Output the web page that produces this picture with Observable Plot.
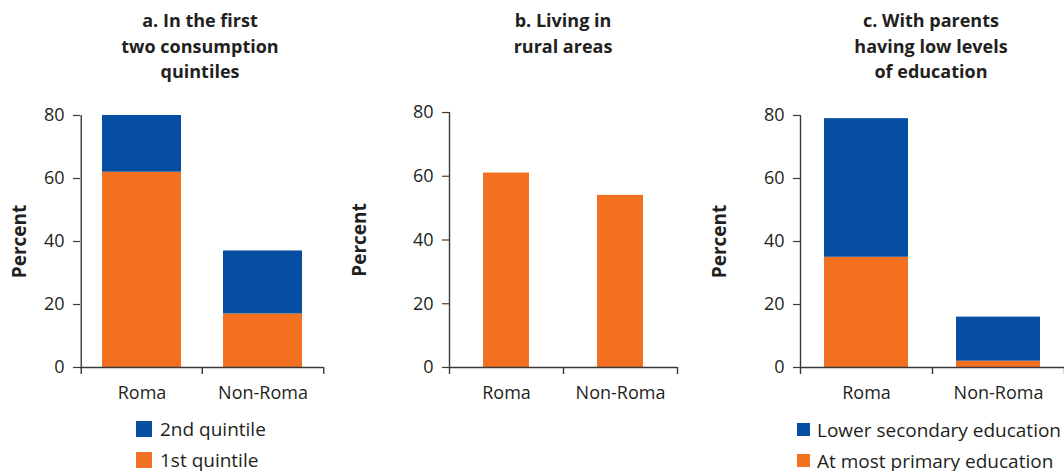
<!DOCTYPE html>
<html>
<head>
<meta charset="utf-8">
<script src="https://cdn.jsdelivr.net/npm/d3@7"></script>
<script src="https://cdn.jsdelivr.net/npm/@observablehq/plot@0.6"></script>
<style>
  html, body { margin: 0; padding: 0; background: #fff; }
  #root { position: relative; width: 1064px; height: 471px; overflow: hidden; font-family: "Open Sans", "Noto Sans", sans-serif; color: #231f20; }
  .panel { position: absolute; top: 0; }
  .title { position: absolute; width: 320px; text-align: center; font-weight: bold; font-size: 18px; line-height: 25.5px; }
  .legrow { position: absolute; display: flex; align-items: center; font-size: 19px; white-space: nowrap; }
  .sw { display: inline-block; flex: none; }
</style>
</head>
<body>
<div id="root"></div>
<script>
// ---- data ----
const categories = ["Roma", "Non-Roma"];
const seriesA = ["1st quintile", "2nd quintile"];
const aFirstQuintile = [62, 17];
const aSecondQuintile = [18, 20];
const bRural = [61, 54];
const seriesC = ["At most primary education", "Lower secondary education"];
const cPrimary = [35, 2];
const cLowerSecondary = [44, 14];
const yTicks = [0, 20, 40, 60, 80];
const titles = [
  ["a. In the first", "two consumption", "quintiles"],
  ["b. Living in", "rural areas"],
  ["c. With parents", "having low levels", "of education"]
];

const ORANGE = "#f37021";
const BLUE = "#054ea2";
const INK = "#231f20";
const AXIS = "#3a3a3a";
const FONT = '"Open Sans", "Noto Sans", sans-serif';

const root = document.getElementById("root");

function panel({left, width, marginLeft, marginRight, marginTop, data, series, colors, padding}) {
  const height = 420;
  const marginBottom = height - 367;
  const step = (width - marginLeft - marginRight) / categories.length;
  const plot = Plot.plot({
    width, height, marginLeft, marginRight, marginTop, marginBottom,
    style: {fontFamily: FONT, fontSize: "18px", color: INK, background: "transparent", overflow: "visible"},
    x: {domain: categories, paddingInner: padding, paddingOuter: padding / 2, axis: null},
    y: {domain: [0, 80], axis: null},
    color: {domain: series, range: colors},
    marks: [
      Plot.barY(data, {x: "cat", y: "value", fill: "series", order: series}),
      Plot.axisY({ticks: yTicks, tickSize: 7, tickPadding: 9, label: null, stroke: AXIS, fill: INK, strokeWidth: 1.2, fontSize: 18, fontFamily: FONT}),
      Plot.axisX({tickSize: 0, tickPadding: 19, label: null, fill: INK, fontSize: 18, fontFamily: FONT}),
      Plot.ruleY([0], {stroke: AXIS, strokeWidth: 1.4}),
      Plot.ruleX([categories[0]], {x: d => d, dx: -step / 2, insetBottom: -7, stroke: AXIS, strokeWidth: 1.4}),
      Plot.ruleX(categories.slice(1), {x: d => d, dx: -step / 2, y1: 0, y2: 0, insetBottom: -7, stroke: AXIS, strokeWidth: 1.4}),
      Plot.ruleX(categories.slice(-1), {x: d => d, dx: step / 2, y1: 0, y2: 0, insetBottom: -7, stroke: AXIS, strokeWidth: 1.4}),
      Plot.text(["Percent"], {frameAnchor: "left", rotate: -90, dx: -(marginLeft - 19), fontWeight: "bold", fontSize: 19, fontFamily: FONT, fill: INK, textAnchor: "middle"})
    ]
  });
  const wrap = document.createElement("div");
  wrap.className = "panel";
  wrap.style.left = left + "px";
  wrap.appendChild(plot);
  root.appendChild(wrap);
}

function addTitle(lines, center) {
  const d = document.createElement("div");
  d.className = "title";
  d.style.left = (center - 160) + "px";
  d.style.top = "8px";
  d.innerHTML = lines.join("<br>");
  root.appendChild(d);
}

function addLegend(items, x, y0, rowGap, size, textX) {
  items.forEach(([label, color], i) => {
    const row = document.createElement("div");
    row.className = "legrow";
    row.style.left = x + "px";
    row.style.top = (y0 + i * rowGap) + "px";
    row.style.height = size + "px";
    const sw = document.createElement("span");
    sw.className = "sw";
    sw.style.width = size + "px";
    sw.style.height = size + "px";
    sw.style.background = color;
    sw.style.marginRight = (textX - x - size) + "px";
    row.appendChild(sw);
    const t = document.createElement("span");
    t.textContent = label;
    row.appendChild(t);
    root.appendChild(row);
  });
}

// panel a
const dataA = [];
categories.forEach((c, i) => {
  dataA.push({cat: c, series: seriesA[0], value: aFirstQuintile[i]});
  dataA.push({cat: c, series: seriesA[1], value: aSecondQuintile[i]});
});
panel({left: 0, width: 340, marginLeft: 80, marginRight: 17, marginTop: 115, data: dataA, series: seriesA, colors: [ORANGE, BLUE], padding: 0.35});

// panel b
const dataB = categories.map((c, i) => ({cat: c, series: "Rural", value: bRural[i]}));
panel({left: 340, width: 360, marginLeft: 109, marginRight: 23, marginTop: 112, data: dataB, series: ["Rural"], colors: [ORANGE], padding: 0.6});

// panel c
const dataC = [];
categories.forEach((c, i) => {
  dataC.push({cat: c, series: seriesC[0], value: cPrimary[i]});
  dataC.push({cat: c, series: seriesC[1], value: cLowerSecondary[i]});
});
panel({left: 700, width: 364, marginLeft: 100, marginRight: 0, marginTop: 115, data: dataC, series: seriesC, colors: [ORANGE, BLUE], padding: 0.36});

addTitle(titles[0], 200);
addTitle(titles[1], 563);
addTitle(titles[2], 931);

addLegend([[seriesA[1], BLUE], [seriesA[0], ORANGE]], 136, 421, 31, 16, 160);
addLegend([[seriesC[1], BLUE], [seriesC[0], ORANGE]], 797, 423, 31, 13, 817);
</script>
</body>
</html>
